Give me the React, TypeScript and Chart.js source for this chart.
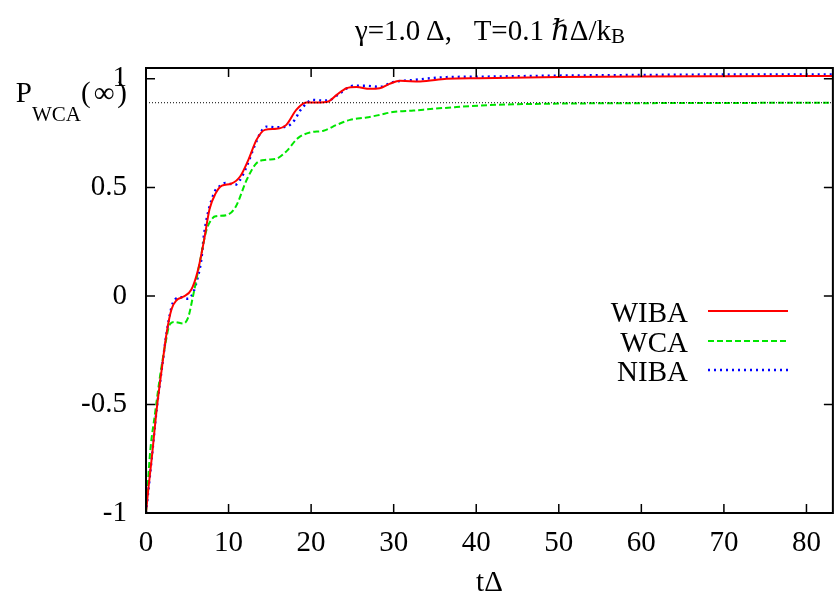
import React, { useEffect, useRef } from "react";
import { Chart, registerables } from "chart.js";

Chart.register(...registerables);

const FONT = "'Liberation Serif', 'DejaVu Serif', serif";

const X_MAX = 83.2;
const Y_MIN = -1;
const Y_MAX = 1.05;
const P_WCA_INF = 0.89;

const xTicks = [0, 10, 20, 30, 40, 50, 60, 70, 80];
const yTicks = [-1, -0.5, 0, 0.5, 1];

// WIBA (red, solid)
const wibaT = [0, 0.28, 0.69, 1.3, 1.9, 2.5, 3.1, 3.7, 4.5, 5.5, 6.3, 7.0, 7.7, 8.4, 9.2, 10.3, 11.4, 12.4, 13.4, 14.4, 15.8, 17.0, 18.2, 19.4, 20.7, 22.1, 23.1, 24.3, 25.5, 27.1, 28.3, 29.5, 30.8, 33.2, 36.4, 40.4, 50, 60, 70, 83.2];
const wibaP = [-1, -0.89, -0.75, -0.52, -0.34, -0.17, -0.06, -0.02, -0.004, 0.03, 0.12, 0.25, 0.4, 0.47, 0.508, 0.517, 0.55, 0.627, 0.72, 0.765, 0.77, 0.788, 0.857, 0.891, 0.891, 0.896, 0.926, 0.957, 0.962, 0.954, 0.957, 0.977, 0.991, 0.988, 1.0, 1.003, 1.008, 1.011, 1.012, 1.013];

// WCA (green, dashed)
const wcaT = [0, 0.5, 1.1, 1.7, 2.3, 2.9, 3.5, 4.5, 5.1, 5.7, 6.5, 7.3, 8.1, 8.5, 9.9, 10.9, 12.2, 13.4, 14.6, 15.8, 17.0, 18.4, 19.85, 21.5, 23.1, 24.7, 26.7, 28.3, 29.9, 32.4, 34.8, 37.6, 40.4, 45, 50, 60, 70, 83.2];
const wcaP = [-1, -0.72, -0.54, -0.37, -0.23, -0.13, -0.12, -0.127, -0.1, 0.0, 0.152, 0.3, 0.36, 0.367, 0.374, 0.413, 0.535, 0.612, 0.627, 0.632, 0.666, 0.727, 0.753, 0.761, 0.788, 0.811, 0.822, 0.834, 0.847, 0.854, 0.862, 0.87, 0.877, 0.883, 0.886, 0.888, 0.889, 0.89];

// NIBA (blue, dotted)
const nibaT = [0, 0.69, 1.3, 1.9, 2.5, 3.1, 3.5, 4.3, 5.1, 5.7, 6.3, 6.7, 7.05, 8.2, 9.0, 9.6, 10.8, 11.4, 12.2, 13.2, 14.0, 14.6, 15.8, 17.0, 18.0, 18.6, 19.4, 20.1, 21.5, 22.3, 23.5, 25.1, 26.7, 28.3, 29.9, 32.4, 36.4, 40.4, 50, 60, 70, 83.2];
const nibaP = [-1, -0.75, -0.52, -0.34, -0.17, -0.05, -0.017, -0.006, -0.013, 0.014, 0.09, 0.167, 0.29, 0.47, 0.508, 0.52, 0.512, 0.535, 0.597, 0.696, 0.76, 0.78, 0.777, 0.78, 0.81, 0.85, 0.885, 0.903, 0.9, 0.903, 0.934, 0.968, 0.968, 0.963, 0.985, 0.995, 1.008, 1.01, 1.015, 1.018, 1.02, 1.02];

const seriesNames = ["WIBA", "WCA", "NIBA"];
const seriesColors = ["#ff0000", "#00e600", "#0000ff"];
const seriesDashes: number[][] = [[], [6, 3], [2, 4]];
const seriesWidths = [2, 2, 2.4];

const toPts = (t: number[], p: number[]) => t.map((x, i) => ({ x, y: p[i] }));

const framePlugin = {
  id: "frameTicks",
  afterDatasetsDraw(chart: any) {
    const { ctx, chartArea: a, scales } = chart;
    const L = 9;
    ctx.save();
    ctx.strokeStyle = "#000";
    ctx.lineWidth = 1.5;
    ctx.setLineDash([]);
    ctx.beginPath();
    for (const v of xTicks) {
      const px = scales.x.getPixelForValue(v);
      ctx.moveTo(px, a.bottom);
      ctx.lineTo(px, a.bottom - L);
      ctx.moveTo(px, a.top);
      ctx.lineTo(px, a.top + L);
    }
    for (const v of yTicks) {
      const py = scales.y.getPixelForValue(v);
      ctx.moveTo(a.left, py);
      ctx.lineTo(a.left + L, py);
      ctx.moveTo(a.right, py);
      ctx.lineTo(a.right - L, py);
    }
    ctx.stroke();
    ctx.lineWidth = 2;
    ctx.strokeRect(a.left, a.top, a.right - a.left, a.bottom - a.top);
    ctx.restore();
  },
};

export default function App() {
  const ref = useRef<HTMLCanvasElement | null>(null);

  useEffect(() => {
    if (!ref.current) return;
    const lineCommon = {
      showLine: true,
      pointRadius: 0,
      cubicInterpolationMode: "monotone" as const,
      fill: false,
    };
    const chart = new Chart(ref.current, {
      type: "scatter",
      data: {
        datasets: [
          {
            label: "P_WCA(inf)",
            data: [
              { x: 0, y: P_WCA_INF },
              { x: X_MAX, y: P_WCA_INF },
            ],
            showLine: true,
            pointRadius: 0,
            borderWidth: 1,
            borderColor: "#000",
            borderDash: [1, 2],
          },
          {
            ...lineCommon,
            label: seriesNames[0],
            data: toPts(wibaT, wibaP),
            borderColor: seriesColors[0],
            borderDash: seriesDashes[0],
            borderWidth: seriesWidths[0],
          },
          {
            ...lineCommon,
            label: seriesNames[1],
            data: toPts(wcaT, wcaP),
            borderColor: seriesColors[1],
            borderDash: seriesDashes[1],
            borderWidth: seriesWidths[1],
          },
          {
            ...lineCommon,
            label: seriesNames[2],
            data: toPts(nibaT, nibaP),
            borderColor: seriesColors[2],
            borderDash: seriesDashes[2],
            borderWidth: seriesWidths[2],
          },
        ],
      },
      options: {
        animation: false,
        responsive: false,
        maintainAspectRatio: false,
        layout: { padding: { left: 0, right: 1, top: 68, bottom: 0 } },
        plugins: {
          legend: { display: false },
          title: { display: false },
          tooltip: { enabled: false },
        },
        scales: {
          x: {
            type: "linear",
            min: 0,
            max: X_MAX,
            afterBuildTicks: (s: any) => {
              s.ticks = xTicks.map((v) => ({ value: v }));
            },
            afterFit: (s: any) => {
              s.height = 93;
            },
            grid: { display: false, drawTicks: false },
            border: { display: false },
            ticks: {
              font: { family: FONT, size: 29 },
              color: "#000",
              padding: 13,
              maxRotation: 0,
              autoSkip: false,
            },
            title: {
              display: true,
              text: "tΔ",
              font: { family: FONT, size: 29 },
              color: "#000",
              padding: { top: 0, bottom: 5 },
            },
          },
          y: {
            type: "linear",
            min: Y_MIN,
            max: Y_MAX,
            afterBuildTicks: (s: any) => {
              s.ticks = yTicks.map((v) => ({ value: v }));
            },
            afterFit: (s: any) => {
              s.width = 146;
            },
            grid: { display: false, drawTicks: false },
            border: { display: false },
            ticks: {
              font: { family: FONT, size: 29 },
              color: "#000",
              padding: 19,
              callback: (v: any) => String(v),
            },
          },
        },
      },
      plugins: [framePlugin],
    });
    return () => chart.destroy();
  }, []);

  const legendTops = [297, 326.7, 356.4];

  return (
    <div
      style={{
        position: "absolute",
        left: 0,
        top: 0,
        width: 834,
        height: 606,
        background: "#fff",
        overflow: "hidden",
        fontFamily: FONT,
        color: "#000",
      }}
    >
      <canvas ref={ref} width={834} height={606} style={{ position: "absolute", left: 0, top: 0, width: 834, height: 606 }} />
      <div
        style={{
          position: "absolute",
          left: 146,
          width: 688,
          top: 16,
          textAlign: "center",
          fontSize: 29,
          lineHeight: "29px",
          whiteSpace: "pre",
        }}
      >
        {"γ=1.0 Δ,   T=0.1 ℏΔ/k"}
        <span style={{ fontSize: 21, position: "relative", top: 3 }}>B</span>
      </div>
      <div
        style={{
          position: "absolute",
          left: 0,
          width: 130,
          top: 78,
          textAlign: "right",
          fontSize: 29,
          lineHeight: "29px",
          whiteSpace: "pre",
        }}
      >
        {"P"}
        <span style={{ fontSize: 21, position: "relative", top: 19 }}>WCA</span>
        <span style={{ letterSpacing: 3 }}>{"(∞)"}</span>
      </div>
      {seriesNames.map((name, i) => (
        <React.Fragment key={name}>
          <div
            style={{
              position: "absolute",
              left: 540,
              width: 148,
              top: legendTops[i],
              textAlign: "right",
              fontSize: 29,
              lineHeight: "30px",
            }}
          >
            {name}
          </div>
          <svg
            style={{ position: "absolute", left: 708, top: legendTops[i] + 4, overflow: "visible" }}
            width={82}
            height={20}
          >
            <line
              x1={0}
              x2={80}
              y1={10}
              y2={10}
              stroke={seriesColors[i]}
              strokeWidth={seriesWidths[i]}
              strokeDasharray={seriesDashes[i].length ? seriesDashes[i].join(" ") : undefined}
            />
          </svg>
        </React.Fragment>
      ))}
    </div>
  );
}
